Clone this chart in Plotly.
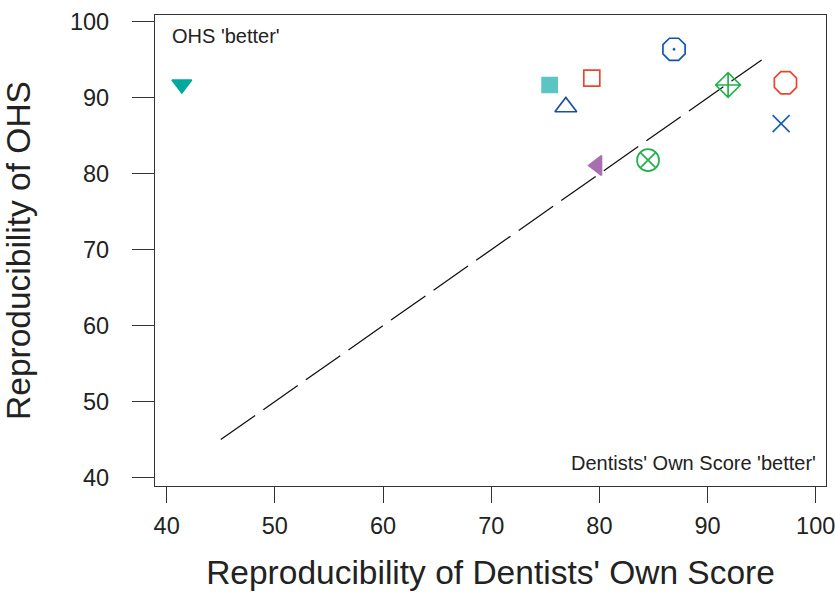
import plotly.graph_objects as go

x_vals = [41.4, 75.4, 79.3, 76.9, 86.9, 91.9, 97.2, 96.8, 84.5, 79.8]
y_vals = [91.8, 91.7, 92.6, 88.8, 96.4, 91.7, 92.0, 86.6, 81.8, 81.1]
symbols = ["triangle-down", "square", "square-open", "triangle-up-open", "octagon-open-dot",
           "diamond-cross-open", "octagon-open", "x-thin-open", "circle-x-open", "triangle-left"]
colors = ["#00A99D", "#5BC5C2", "#E8472E", "#1F4FA0", "#1155B0",
          "#22B14C", "#E8472E", "#1F5FB0", "#22B14C", "#A86FB0"]
sizes = [17, 15, 16, 19, 24, 19, 24, 17, 22, 17]

line_x = [45, 95]
line_y = [45, 95]

x_ticks = [40, 50, 60, 70, 80, 90, 100]
y_ticks = [40, 50, 60, 70, 80, 90, 100]

FONT = "Liberation Sans, Arial, sans-serif"

fig = go.Figure()
fig.add_trace(go.Scatter(x=line_x, y=line_y, mode="lines",
                         line=dict(color="#111111", width=1.3, dash="42px,10px"),
                         showlegend=False, hoverinfo="skip"))
for xv, yv, s, c, sz in zip(x_vals, y_vals, symbols, colors, sizes):
    fig.add_trace(go.Scatter(x=[xv], y=[yv], mode="markers",
                             marker=dict(symbol=s, color=c, size=sz,
                                         line=dict(color=c, width=1.7)),
                             showlegend=False))

axis_common = dict(showline=True, linecolor="#333333", linewidth=1.3, mirror=True,
                   ticks="outside", tickcolor="#333333", tickwidth=1.3,
                   showgrid=False, zeroline=False, ticklabeloverflow="allow",
                   automargin=False,
                   tickfont=dict(family=FONT, size=23.5, color="#222222"))

fig.update_xaxes(range=[38.92, 100.95], tickvals=x_ticks, ticklen=16, ticklabelstandoff=3,
                 title=dict(text="Reproducibility of Dentists' Own Score",
                            font=dict(family=FONT, size=33.5, color="#222222"),
                            standoff=22),
                 **axis_common)
fig.update_yaxes(range=[38.88, 100.92], tickvals=y_ticks, ticklen=22, ticklabelstandoff=18,
                 title=dict(text="Reproducibility of OHS",
                            font=dict(family=FONT, size=33.5, color="#222222"),
                            standoff=32),
                 **axis_common)

fig.add_annotation(x=0.022, y=0.955, xref="paper", yref="paper", text="OHS 'better'",
                   showarrow=False, xanchor="left", yanchor="middle",
                   font=dict(family=FONT, size=20, color="#222222"))
fig.add_annotation(x=0.988, y=0.049, xref="paper", yref="paper", text="Dentists' Own Score 'better'",
                   showarrow=False, xanchor="right", yanchor="middle",
                   font=dict(family=FONT, size=20, color="#222222"))

fig.update_layout(width=835, height=592, margin=dict(l=155, r=9, t=15, b=105.5),
                  plot_bgcolor="white", paper_bgcolor="white")
fig.write_html("out.html")
